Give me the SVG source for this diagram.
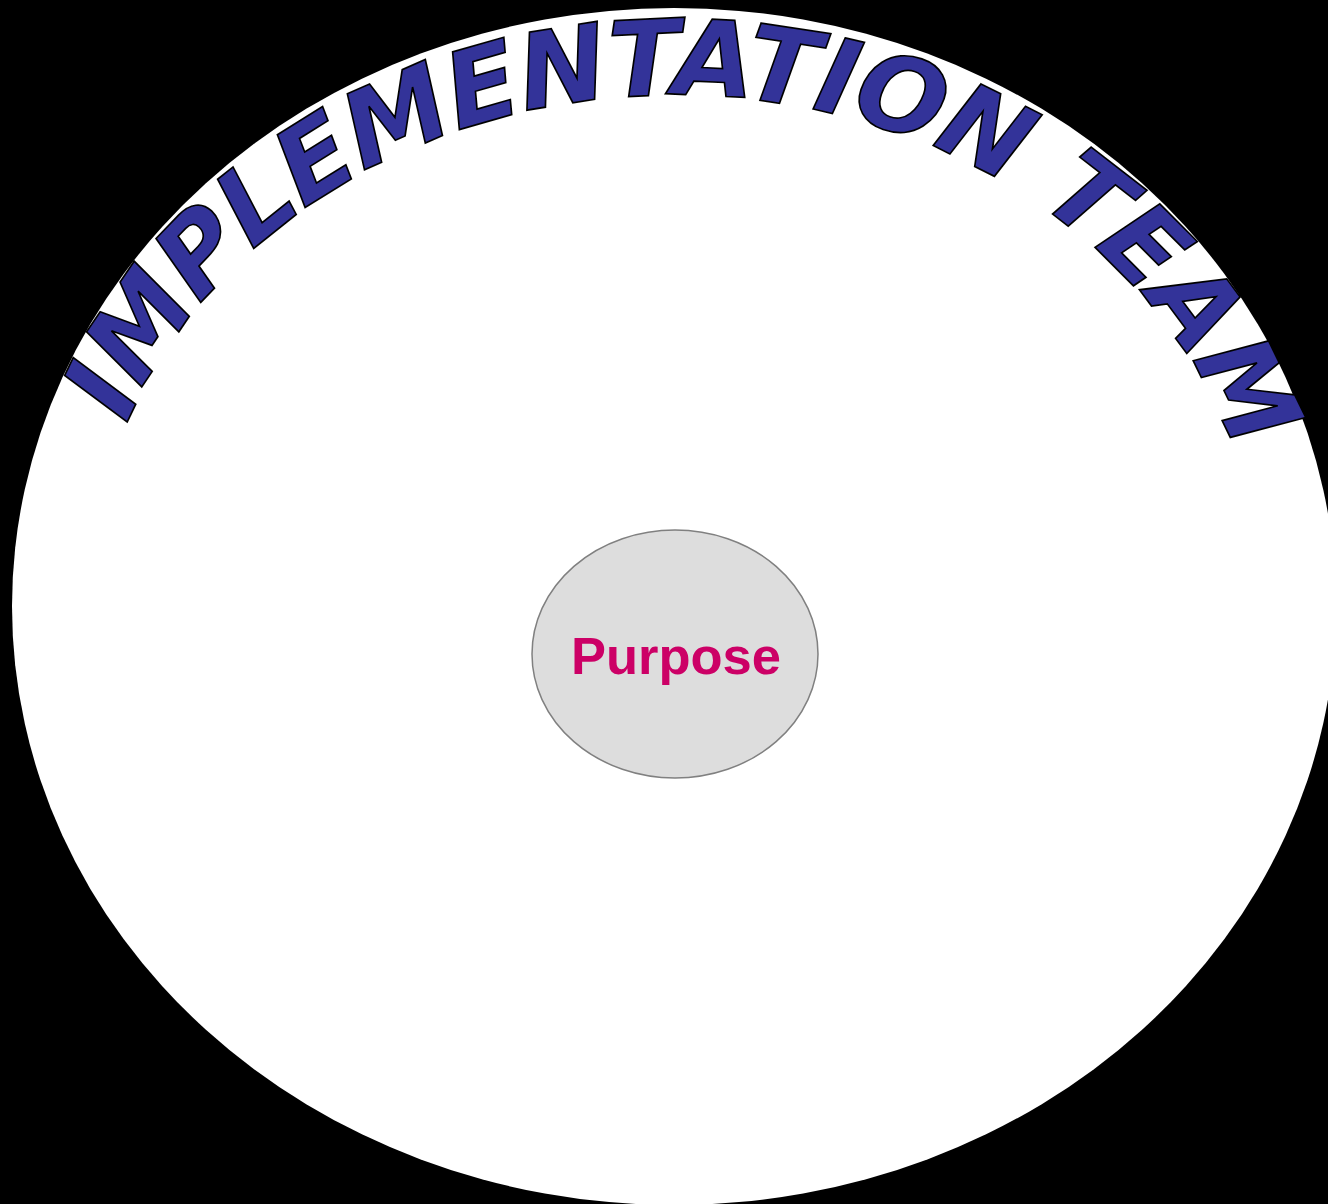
<svg xmlns="http://www.w3.org/2000/svg" width="1328" height="1204" viewBox="0 0 1328 1204">
  <style>
    .arch { font-family: "DejaVu Sans", "Liberation Sans", sans-serif; font-weight: bold; font-style: italic; font-size: 105px; letter-spacing: -1.5px; fill: #333399; stroke: #000000; stroke-width: 1.7; stroke-linejoin: miter; }
    .label { font-family: "Liberation Sans", Arial, sans-serif; font-weight: bold; font-size: 52.5px; fill: #cc0066; }
  </style>
  <defs>
    <path id="archPath" d="M 90,600 A 585,505 0 0 1 1260,600"/>
  </defs>
  <rect x="0" y="0" width="1328" height="1204" fill="#000000"/>
  <g id="team">
    <ellipse cx="674" cy="606.5" rx="662" ry="598.5" fill="#ffffff"/>
    <text class="arch"><textPath href="#archPath" startOffset="181">IMPLEMENTATION TEAM</textPath></text>
  </g>
  <g id="purpose">
    <ellipse cx="675" cy="654" rx="143" ry="124" fill="#dddddd" stroke="#808080" stroke-width="1.5"/>
    <text class="label" x="676" y="674" text-anchor="middle">Purpose</text>
  </g>
  <g id="connectors"/>
</svg>
